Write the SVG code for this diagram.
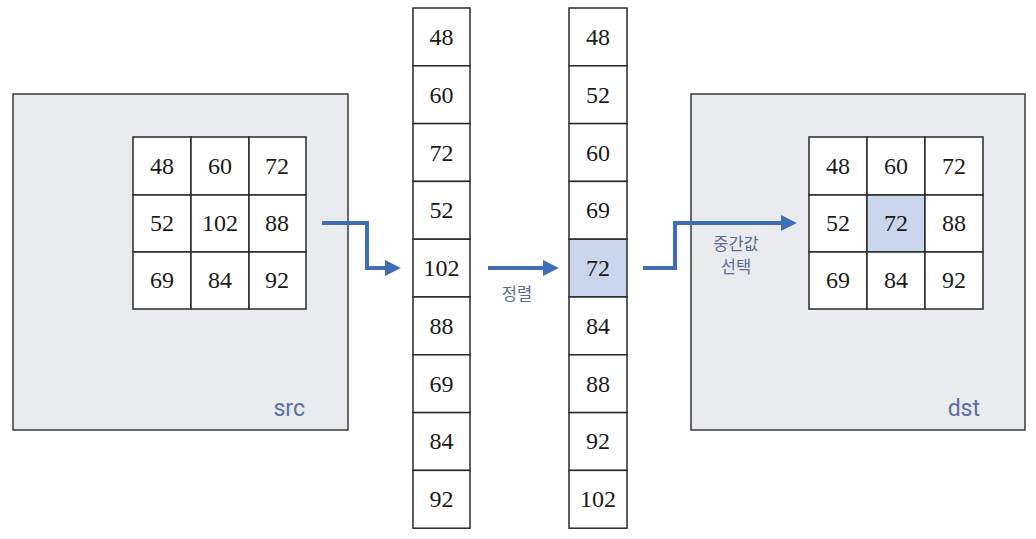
<svg xmlns="http://www.w3.org/2000/svg" width="1036" height="539" viewBox="0 0 1036 539">
<style>
.panel{fill:#eaebee;stroke:#3a3a3a;stroke-width:1.5}
.cell{fill:#ffffff;stroke:#2a2a2a;stroke-width:1.5}
.hl{fill:#c9d6ec;stroke:#2a2a2a;stroke-width:1.5}
.num{font-family:"Liberation Serif","DejaVu Serif",serif;font-size:24px;fill:#1a1a1a;text-anchor:middle}
.name{font-family:Roboto,"Liberation Sans",Arial,sans-serif;font-size:23px;fill:#5b6fa3;text-anchor:end}
.lbl{font-family:"Noto Sans CJK KR","Noto Sans",sans-serif;font-size:16.5px;fill:#5b6b96;text-anchor:middle}
.arrow{fill:none;stroke:#3f6db7;stroke-width:4;marker-end:url(#ah)}
</style>
<defs>
<marker id="ah" viewBox="0 0 10 10" refX="2" refY="5" markerWidth="4" markerHeight="4" orient="auto" markerUnits="strokeWidth">
<path d="M0,0 L10,5 L0,10 z" fill="#3f6db7"/>
</marker>
</defs>

<g id="src">
<rect class="panel" x="13" y="94" width="335" height="336"/>
<rect class="cell" x="133" y="137" width="58" height="58"/>
<rect class="cell" x="191" y="137" width="58" height="58"/>
<rect class="cell" x="249" y="137" width="57" height="58"/>
<rect class="cell" x="133" y="195" width="58" height="57"/>
<rect class="cell" x="191" y="195" width="58" height="57"/>
<rect class="cell" x="249" y="195" width="57" height="57"/>
<rect class="cell" x="133" y="252" width="58" height="57"/>
<rect class="cell" x="191" y="252" width="58" height="57"/>
<rect class="cell" x="249" y="252" width="57" height="57"/>
<text class="num" x="162" y="174">48</text>
<text class="num" x="220" y="174">60</text>
<text class="num" x="277" y="174">72</text>
<text class="num" x="162" y="231">52</text>
<text class="num" x="220" y="231">102</text>
<text class="num" x="277" y="231">88</text>
<text class="num" x="162" y="288">69</text>
<text class="num" x="220" y="288">84</text>
<text class="num" x="277" y="288">92</text>
<text class="name" x="305" y="416">src</text>
</g>

<g id="unsorted">
<rect class="cell" x="413" y="8" width="57" height="57.8"/>
<rect class="cell" x="413" y="65.8" width="57" height="57.8"/>
<rect class="cell" x="413" y="123.6" width="57" height="57.8"/>
<rect class="cell" x="413" y="181.4" width="57" height="57.8"/>
<rect class="cell" x="413" y="239.2" width="57" height="57.8"/>
<rect class="cell" x="413" y="297" width="57" height="57.8"/>
<rect class="cell" x="413" y="354.8" width="57" height="57.8"/>
<rect class="cell" x="413" y="412.6" width="57" height="57.8"/>
<rect class="cell" x="413" y="470.4" width="57" height="57.8"/>
<text class="num" x="441.5" y="45">48</text>
<text class="num" x="441.5" y="103">60</text>
<text class="num" x="441.5" y="161">72</text>
<text class="num" x="441.5" y="218">52</text>
<text class="num" x="441.5" y="276">102</text>
<text class="num" x="441.5" y="334">88</text>
<text class="num" x="441.5" y="392">69</text>
<text class="num" x="441.5" y="449">84</text>
<text class="num" x="441.5" y="507">92</text>
</g>

<g id="sorted">
<rect class="cell" x="569" y="8" width="58" height="57.8"/>
<rect class="cell" x="569" y="65.8" width="58" height="57.8"/>
<rect class="cell" x="569" y="123.6" width="58" height="57.8"/>
<rect class="cell" x="569" y="181.4" width="58" height="57.8"/>
<rect class="hl" x="569" y="239.2" width="58" height="57.8"/>
<rect class="cell" x="569" y="297" width="58" height="57.8"/>
<rect class="cell" x="569" y="354.8" width="58" height="57.8"/>
<rect class="cell" x="569" y="412.6" width="58" height="57.8"/>
<rect class="cell" x="569" y="470.4" width="58" height="57.8"/>
<text class="num" x="598" y="45">48</text>
<text class="num" x="598" y="103">52</text>
<text class="num" x="598" y="161">60</text>
<text class="num" x="598" y="218">69</text>
<text class="num" x="598" y="276">72</text>
<text class="num" x="598" y="334">84</text>
<text class="num" x="598" y="392">88</text>
<text class="num" x="598" y="449">92</text>
<text class="num" x="598" y="507">102</text>
</g>

<g id="dst">
<rect class="panel" x="691" y="94" width="334" height="336"/>
<rect class="cell" x="809" y="137" width="58" height="58"/>
<rect class="cell" x="867" y="137" width="58" height="58"/>
<rect class="cell" x="925" y="137" width="58" height="58"/>
<rect class="cell" x="809" y="195" width="58" height="57"/>
<rect class="hl" x="867" y="195" width="58" height="57"/>
<rect class="cell" x="925" y="195" width="58" height="57"/>
<rect class="cell" x="809" y="252" width="58" height="57"/>
<rect class="cell" x="867" y="252" width="58" height="57"/>
<rect class="cell" x="925" y="252" width="58" height="57"/>
<text class="num" x="838" y="174">48</text>
<text class="num" x="896" y="174">60</text>
<text class="num" x="954" y="174">72</text>
<text class="num" x="838" y="231">52</text>
<text class="num" x="896" y="231">72</text>
<text class="num" x="954" y="231">88</text>
<text class="num" x="838" y="288">69</text>
<text class="num" x="896" y="288">84</text>
<text class="num" x="954" y="288">92</text>
<text class="name" x="980" y="416">dst</text>
</g>

<g id="connectors">
<path class="arrow" d="M322,223 H367 V268 H388"/>
<path class="arrow" d="M488,268 H546"/>
<text class="lbl" x="517" y="300">정렬</text>
<path class="arrow" d="M643,268 H675 V223 H784"/>
<text class="lbl" x="736" y="250">중간값</text>
<text class="lbl" x="736" y="273">선택</text>
</g>
</svg>
